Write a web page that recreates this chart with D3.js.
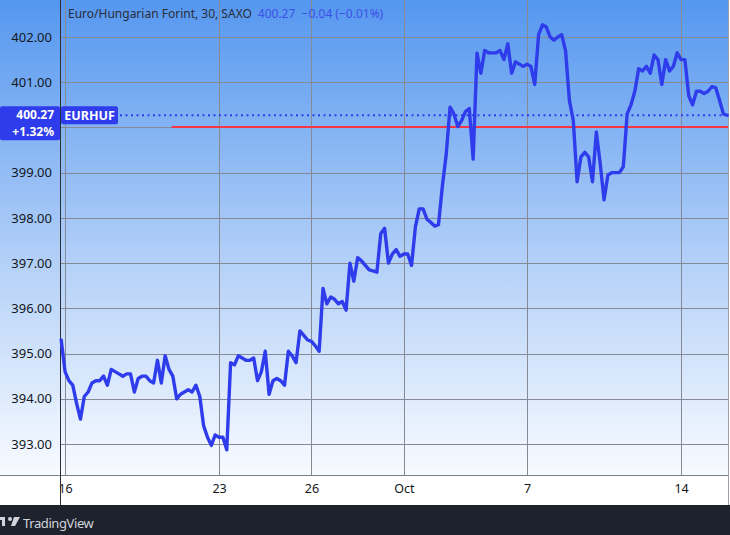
<!DOCTYPE html>
<html>
<head>
<meta charset="utf-8">
<script src="https://cdn.jsdelivr.net/npm/d3@7"></script>
<style>
  html, body { margin: 0; padding: 0; background: #ffffff; }
  svg { display: block; }
  text { font-family: "Noto Sans", "Open Sans", sans-serif; }
</style>
</head>
<body>
<div id="chart"></div>
<script>
// 30 minute EUR/HUF closes, sampled every 3 hours (8 samples per trading day)
const closes = [
  395.3, 394.6, 394.4, 394.3, 393.9, 393.55, 394.05, 394.15, 394.35, 394.4,
  394.4, 394.5, 394.3, 394.65, 394.6, 394.55, 394.5, 394.55, 394.55, 394.15,
  394.45, 394.5, 394.5, 394.4, 394.35, 394.85, 394.35, 394.95, 394.65, 394.5,
  394.0, 394.1, 394.15, 394.2, 394.15, 394.3, 394.05, 393.4, 393.15, 392.97,
  393.2, 393.15, 393.15, 392.87, 394.8, 394.75, 394.95, 394.9, 394.85, 394.85,
  394.9, 394.4, 394.6, 395.05, 394.1, 394.4, 394.45, 394.4, 394.3, 395.05,
  394.95, 394.8, 395.5, 395.4, 395.3, 395.27, 395.17, 395.05, 396.44, 396.1,
  396.25, 396.2, 396.1, 396.15, 395.96, 397.0, 396.6, 397.12, 397.05, 396.95,
  396.85, 396.83, 396.8, 397.65, 397.77, 397.0, 397.2, 397.3, 397.15, 397.2,
  397.2, 396.95, 397.8, 398.2, 398.2, 397.97, 397.9, 397.82, 397.85, 398.7,
  399.4, 400.45, 400.3, 400.02, 400.15, 400.35, 400.42, 399.3, 401.64, 401.2,
  401.7, 401.65, 401.65, 401.65, 401.7, 401.5, 401.85, 401.2, 401.45, 401.4,
  401.35, 401.4, 401.35, 400.95, 402.05, 402.27, 402.22, 402.0, 401.93, 402.0,
  402.05, 401.7, 400.6, 400.16, 398.8, 399.35, 399.45, 399.35, 398.8, 399.9,
  399.2, 398.4, 398.95, 399.0, 399.0, 399.0, 399.13, 400.3, 400.5, 400.8,
  401.3, 401.25, 401.35, 401.2, 401.6, 401.5, 400.95, 401.5, 401.25, 401.35,
  401.65, 401.5, 401.5, 400.7, 400.5, 400.8, 400.8, 400.75, 400.8, 400.9,
  400.88, 400.6, 400.3, 400.27
];

const priceTicks = [393, 394, 395, 396, 397, 398, 399, 400, 401, 402];
const timeLabels = ["16", "23", "26", "Oct", "7", "14"];
const timeTickIndex = [1, 41, 65, 89, 121, 161];

const lastPrice = 400.27;
const refPrice = 400.0;
const refStartIndex = 28.7;
const headerTitle = "Euro/Hungarian Forint, 30, SAXO";
const headerQuote = "400.27  \u22120.04 (\u22120.01%)";
const changePct = "+1.32%";
const symbol = "EURHUF";

const W = 730, H = 535;
const PANE = {left: 60, right: 728, top: 0, bottom: 475};
const AXIS_BOTTOM = 505;
const LINE_COLOR = "#2f3ceb";

const svg = d3.select("#chart").append("svg")
  .attr("width", W)
  .attr("height", H);

// background gradient
const defs = svg.append("defs");
const grad = defs.append("linearGradient")
  .attr("id", "bg")
  .attr("x1", 0).attr("y1", 0).attr("x2", 0).attr("y2", 1);
grad.append("stop").attr("offset", "0%").attr("stop-color", "#5597ef");
grad.append("stop").attr("offset", "55%").attr("stop-color", "#b3d0f8");
grad.append("stop").attr("offset", "100%").attr("stop-color", "#f8fbff");

svg.append("rect")
  .attr("x", 0).attr("y", 0)
  .attr("width", PANE.right).attr("height", PANE.bottom)
  .attr("fill", "url(#bg)");

// time axis pane
svg.append("rect")
  .attr("x", 0).attr("y", PANE.bottom)
  .attr("width", W).attr("height", AXIS_BOTTOM - PANE.bottom)
  .attr("fill", "#ffffff");

// footer
svg.append("rect")
  .attr("x", 0).attr("y", AXIS_BOTTOM)
  .attr("width", W).attr("height", H - AXIS_BOTTOM)
  .attr("fill", "#1e222d");

const x = d3.scaleLinear()
  .domain([0, closes.length - 1])
  .range([61.2, 727.25]);

const y = d3.scaleLinear()
  .domain([393, 402])
  .range([444, 37]);

// grid
const grid = svg.append("g").attr("stroke", "#858a95").attr("stroke-width", 1);
grid.selectAll("line.h")
  .data(priceTicks)
  .enter().append("line")
    .attr("class", "h")
    .attr("x1", PANE.left).attr("x2", PANE.right)
    .attr("y1", d => Math.round(y(d)) + 0.5)
    .attr("y2", d => Math.round(y(d)) + 0.5);
grid.selectAll("line.v")
  .data(timeTickIndex)
  .enter().append("line")
    .attr("class", "v")
    .attr("x1", d => Math.round(x(d)) + 0.5)
    .attr("x2", d => Math.round(x(d)) + 0.5)
    .attr("y1", 0).attr("y2", PANE.bottom);

// y axis labels (the one under the last-price badge is hidden, as on the chart)
const visibleTicks = priceTicks.filter(d => Math.abs(y(d) - y(lastPrice)) > 20);
const leftAxis = d3.axisLeft(y)
  .tickValues(visibleTicks)
  .tickFormat(d3.format(".2f"))
  .tickSize(0)
  .tickPadding(0);
const yAxisGroup = svg.append("g")
  .attr("transform", `translate(52,0)`)
  .call(leftAxis);
yAxisGroup.select(".domain").remove();
yAxisGroup.selectAll("text")
  .attr("font-size", "13px")
  .attr("font-family", "'Noto Sans', 'Open Sans', sans-serif")
  .attr("fill", "#131722");

// x axis labels
const bottomAxis = d3.axisBottom(x)
  .tickValues(timeTickIndex)
  .tickFormat((d, i) => timeLabels[i])
  .tickSize(0)
  .tickPadding(0);
const xAxisGroup = svg.append("g")
  .attr("transform", `translate(0,${PANE.bottom + 9})`)
  .call(bottomAxis);
xAxisGroup.select(".domain").remove();
xAxisGroup.selectAll("text")
  .attr("font-size", "12.5px")
  .attr("font-family", "'Noto Sans', 'Open Sans', sans-serif")
  .attr("fill", "#131722");

// pane borders
svg.append("line")
  .attr("x1", 0).attr("x2", PANE.right)
  .attr("y1", PANE.bottom + 0.5).attr("y2", PANE.bottom + 0.5)
  .attr("stroke", "#7a7f8a");
svg.append("line")
  .attr("x1", PANE.left + 0.5).attr("x2", PANE.left + 0.5)
  .attr("y1", 0).attr("y2", AXIS_BOTTOM)
  .attr("stroke", "#2a2e39");
svg.append("line")
  .attr("x1", PANE.right + 0.5).attr("x2", PANE.right + 0.5)
  .attr("y1", 0).attr("y2", AXIS_BOTTOM)
  .attr("stroke", "#9aa0aa");

// reference (red) line
svg.append("line")
  .attr("x1", x(refStartIndex)).attr("x2", PANE.right)
  .attr("y1", Math.round(y(refPrice))).attr("y2", Math.round(y(refPrice)))
  .attr("stroke", "#f23645")
  .attr("stroke-width", 2);

// last price dotted line
svg.append("line")
  .attr("x1", 120).attr("x2", PANE.right)
  .attr("y1", y(lastPrice)).attr("y2", y(lastPrice))
  .attr("stroke", LINE_COLOR)
  .attr("stroke-width", 2)
  .attr("stroke-dasharray", "2,3.5");

// price line
const line = d3.line()
  .x((d, i) => x(i))
  .y(d => y(d));

svg.append("path")
  .datum(closes)
  .attr("d", line)
  .attr("fill", "none")
  .attr("stroke", LINE_COLOR)
  .attr("stroke-width", 3.4)
  .attr("stroke-linejoin", "round")
  .attr("stroke-linecap", "round");

// header
const header = svg.append("text")
  .attr("x", 68).attr("y", 18)
  .attr("font-size", "12px")
  .attr("font-family", "'Open Sans', 'Noto Sans', sans-serif");
header.append("tspan").attr("fill", "#2a2e39").text(headerTitle);
header.append("tspan").attr("fill", "#3b50e6").attr("dx", 6)
  .attr("xml:space", "preserve").style("white-space", "pre").text(headerQuote);

// price label on axis
const yLast = y(lastPrice);
svg.append("rect")
  .attr("x", 0).attr("y", yLast - 9)
  .attr("width", 60).attr("height", 34)
  .attr("rx", 2)
  .attr("fill", LINE_COLOR);
svg.append("text")
  .attr("x", 54).attr("y", yLast + 4)
  .attr("text-anchor", "end")
  .attr("font-size", "12px")
  .attr("font-weight", "bold")
  .attr("fill", "#ffffff")
  .text(d3.format(".2f")(lastPrice));
svg.append("text")
  .attr("x", 54).attr("y", yLast + 21)
  .attr("text-anchor", "end")
  .attr("font-size", "12px")
  .attr("font-weight", "bold")
  .attr("fill", "#ffffff")
  .text(changePct);

// symbol label
svg.append("rect")
  .attr("x", 61).attr("y", yLast - 9)
  .attr("width", 57).attr("height", 18)
  .attr("rx", 2)
  .attr("fill", LINE_COLOR);
svg.append("text")
  .attr("x", 89.5).attr("y", yLast + 4.5)
  .attr("text-anchor", "middle")
  .attr("font-size", "12.5px")
  .attr("font-weight", "bold")
  .attr("fill", "#ffffff")
  .text(symbol);

// TradingView footer mark
const logo = svg.append("g").attr("transform", "translate(0,515)").attr("fill", "#d1d4dc");
logo.append("rect").attr("x", -2).attr("y", 2).attr("width", 7).attr("height", 3);
logo.append("rect").attr("x", 2).attr("y", 2).attr("width", 3).attr("height", 9);
logo.append("circle").attr("cx", 10).attr("cy", 4).attr("r", 2);
logo.append("path").attr("d", "M14,2 L20,2 L15,11 L11,11 Z");
svg.append("text")
  .attr("x", 23).attr("y", 528)
  .attr("font-size", "13px")
  .attr("font-family", "'Open Sans', 'Noto Sans', sans-serif")
  .attr("fill", "#d1d4dc")
  .attr("letter-spacing", "-0.4")
  .text("TradingView");
</script>
</body>
</html>
